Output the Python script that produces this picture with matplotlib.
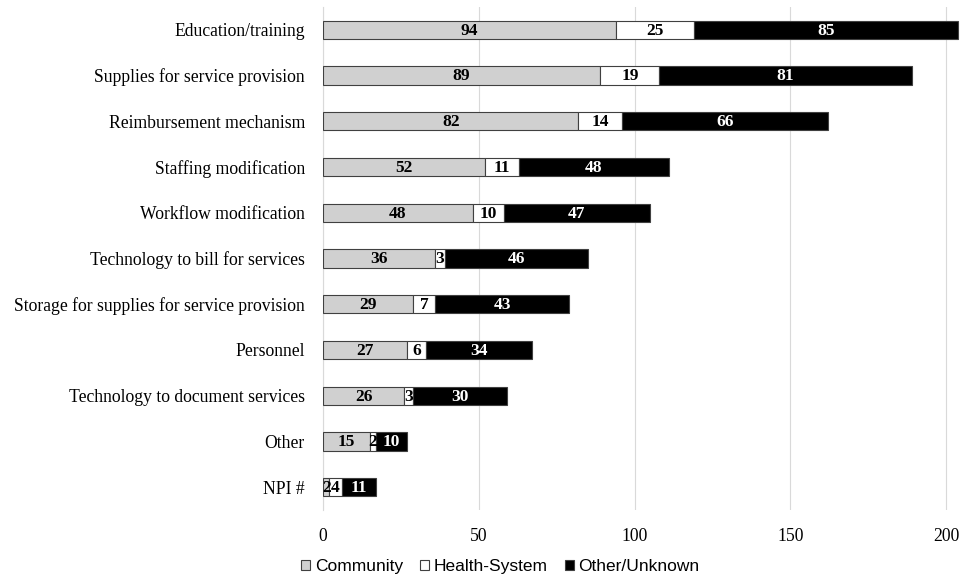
import matplotlib.pyplot as plt
import numpy as np

categories = [
    "Education/training",
    "Supplies for service provision",
    "Reimbursement mechanism",
    "Staffing modification",
    "Workflow modification",
    "Technology to bill for services",
    "Storage for supplies for service provision",
    "Personnel",
    "Technology to document services",
    "Other",
    "NPI #",
]
community = [94, 89, 82, 52, 48, 36, 29, 27, 26, 15, 2]
health_system = [25, 19, 14, 11, 10, 3, 7, 6, 3, 2, 4]
other_unknown = [85, 81, 66, 48, 47, 46, 43, 34, 30, 10, 11]

series = [
    ("Community", community, "#d0d0d0", "black"),
    ("Health-System", health_system, "white", "black"),
    ("Other/Unknown", other_unknown, "black", "white"),
]

fig = plt.figure(figsize=(9.68, 5.75), dpi=100)
ax = fig.add_axes([0.3337, 0.113, 0.6597, 0.875])

y = np.arange(len(categories))
left = np.zeros(len(categories))
for name, vals, color, txtcolor in series:
    vals = np.array(vals, dtype=float)
    bars = ax.barh(y, vals, left=left, height=0.4, color=color,
                   edgecolor="#404040", linewidth=0.8, label=name, zorder=3)
    for b, v in zip(bars, vals):
        ax.text(b.get_x() + b.get_width() / 2, b.get_y() + b.get_height() / 2 + 0.02,
                "%d" % v, ha="center", va="center", color=txtcolor,
                fontsize=12.5, fontweight="bold", family="Liberation Serif", zorder=4)
    left += vals

ax.set_ylim(len(categories) - 0.5, -0.5)
ax.set_xlim(0, 205)
ax.set_xticks([0, 50, 100, 150, 200])
ax.set_yticks(y)
ax.set_yticklabels(categories, family="Liberation Serif", fontsize=12.7)
for lbl in ax.get_xticklabels():
    lbl.set_family("Liberation Serif")
    lbl.set_fontsize(12.7)
ax.tick_params(axis="both", length=0)
ax.tick_params(axis="x", pad=13)
ax.tick_params(axis="y", pad=13)
ax.grid(axis="x", color="#d9d9d9", linewidth=0.8, zorder=0)
for s in ["top", "right", "bottom"]:
    ax.spines[s].set_visible(False)
ax.spines["left"].set_color("#d9d9d9")

leg = fig.legend(loc="lower center", bbox_to_anchor=(0.517, -0.026), ncol=3,
                 frameon=False, handlelength=0.52, handleheight=0.52,
                 handletextpad=0.25, columnspacing=1.0,
                 prop={"family": "Liberation Sans", "size": 12.5})
for h in leg.legend_handles:
    h.set_edgecolor("#404040")
    h.set_linewidth(0.8)

fig.savefig("out.png", dpi=100)
